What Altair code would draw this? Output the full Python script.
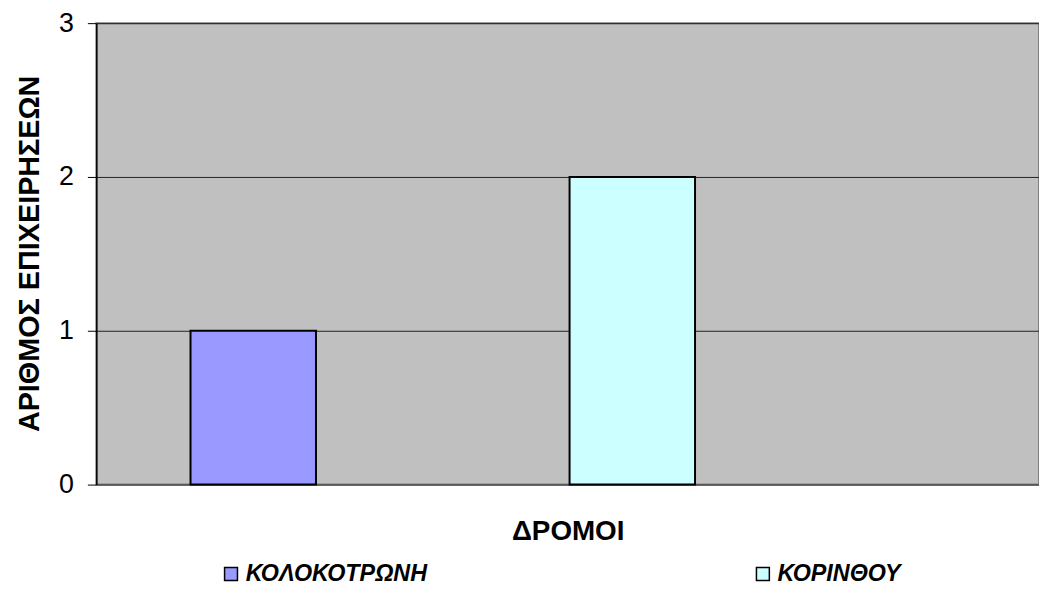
import altair as alt
import pandas as pd

streets = ["ΚΟΛΟΚΟΤΡΩΝΗ", "ΚΟΡΙΝΘΟΥ"]
counts = [1, 2]
colors = ["#9999FF", "#CCFFFF"]
y_ticks = [0, 1, 2, 3]

df = pd.DataFrame({"street": streets, "count": counts})

FONT = "Liberation Sans"

chart = alt.Chart(df).mark_bar(stroke="black", strokeWidth=2).encode(
    x=alt.X(
        "street:N",
        sort=streets,
        title="ΔΡΟΜΟΙ",
        scale=alt.Scale(paddingInner=0.669, paddingOuter=0.578, align=0.215),
        axis=alt.Axis(labels=False, ticks=False, domain=False,
                      titleFont=FONT, titleFontSize=28, titleFontWeight="bold",
                      titleY=47, titleBaseline="middle", titleColor="black"),
    ),
    y=alt.Y(
        "count:Q",
        title="ΑΡΙΘΜΟΣ ΕΠΙΧΕΙΡΗΣΕΩΝ",
        scale=alt.Scale(domain=[0, 3], nice=False),
        axis=alt.Axis(values=y_ticks, format="d", labelFont=FONT, labelFontSize=27,
                      labelColor="black", labelPadding=14, tickSize=9,
                      tickColor="black", domainColor="black", domainWidth=1.5,
                      grid=True, gridColor="#222222", gridWidth=1,
                      titleFont=FONT, titleFontSize=29, titleFontWeight="bold",
                      titleColor="black", titleX=-67, titleY=232,
                      titleBaseline="middle", titleAlign="center", titleAngle=270),
    ),
    color=alt.Color(
        "street:N",
        sort=streets,
        scale=alt.Scale(domain=streets, range=colors),
        legend=alt.Legend(title=None, orient="none", legendX=124, legendY=543,
                          direction="horizontal", columns=2, columnPadding=326,
                          symbolType="square", symbolSize=169,
                          symbolStrokeColor="black", symbolStrokeWidth=1.5,
                          symbolOpacity=1, labelLimit=0,
                          labelFont=FONT, labelFontSize=23.5, labelFontWeight="bold",
                          labelFontStyle="italic", labelColor="black",
                          labelOffset=3, padding=0),
    ),
).properties(
    width=950,
    height=465,
    autosize=alt.AutoSizeParams(type="none"),
    padding={"left": 89, "top": 13, "right": 0, "bottom": 106},
).configure(
    background="white",
    view=alt.ViewConfig(fill="#C0C0C0", stroke="#808080", strokeWidth=2),
)

chart.save("out.html", embed_options={"renderer": "svg", "actions": False})
